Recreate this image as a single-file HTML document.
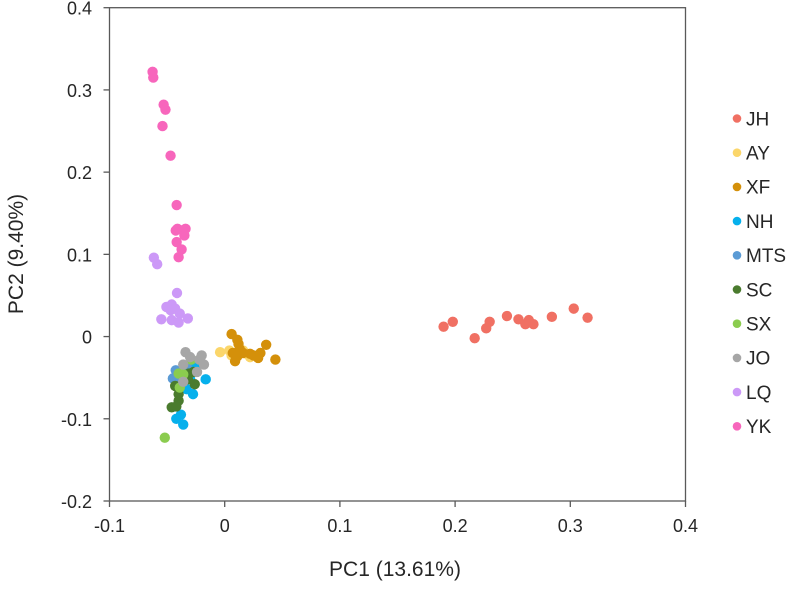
<!DOCTYPE html>
<html><head><meta charset="utf-8"><style>
body{margin:0;background:#fff;font-family:"Liberation Sans",Arial,sans-serif}
svg text{font-family:"Liberation Sans",Arial,sans-serif;fill:#262626}
</style></head><body>
<svg id="chart" width="787" height="586" xmlns="http://www.w3.org/2000/svg"></svg>
<script>
const xTicks=[-0.1,0,0.1,0.2,0.3,0.4];
const yTicks=[-0.2,-0.1,0,0.1,0.2,0.3,0.4];
const groups=["JH","AY","XF","NH","MTS","SC","SX","JO","LQ","YK"];
const colors=["#f07063","#fbd66a","#d4900a","#06b0ec","#5b9bd5","#4a7b2e","#8bcc4f","#a6a6a6","#cc99f7","#f766bc"];
const JH=[[0.190,0.012],[0.198,0.018],[0.217,-0.002],[0.227,0.010],[0.230,0.018],[0.245,0.025],[0.255,0.021],[0.261,0.015],[0.264,0.020],[0.268,0.015],[0.284,0.024],[0.303,0.034],[0.315,0.023]];
const AY=[[-0.004,-0.019],[0.004,-0.017],[0.006,-0.023],[0.019,-0.021],[0.022,-0.025],[0.016,-0.017]];
const XF=[[0.006,0.003],[0.011,-0.004],[0.012,-0.009],[0.013,-0.015],[0.007,-0.020],[0.011,-0.024],[0.009,-0.030],[0.025,-0.023],[0.029,-0.026],[0.031,-0.020],[0.036,-0.010],[0.044,-0.028],[0.016,-0.020],[0.022,-0.021]];
const NH=[[-0.0165,-0.052],[-0.025,-0.037],[-0.0275,-0.070],[-0.033,-0.064],[-0.038,-0.095],[-0.042,-0.100],[-0.036,-0.107],[-0.030,-0.052]];
const MTS=[[-0.0425,-0.041],[-0.045,-0.051],[-0.041,-0.049],[-0.033,-0.037]];
const SC=[[-0.031,-0.045],[-0.026,-0.058],[-0.043,-0.060],[-0.040,-0.070],[-0.040,-0.078],[-0.046,-0.086],[-0.042,-0.085],[-0.027,-0.043],[-0.032,-0.052]];
const SX=[[-0.029,-0.028],[-0.040,-0.045],[-0.036,-0.046],[-0.039,-0.062],[-0.052,-0.123]];
const JO=[[-0.034,-0.019],[-0.020,-0.023],[-0.022,-0.028],[-0.018,-0.034],[-0.036,-0.034],[-0.024,-0.043],[-0.036,-0.055],[-0.030,-0.025]];
const LQ=[[-0.0615,0.096],[-0.0586,0.088],[-0.0414,0.053],[-0.0506,0.036],[-0.046,0.039],[-0.043,0.034],[-0.039,0.028],[-0.055,0.021],[-0.046,0.020],[-0.040,0.017],[-0.032,0.022],[-0.047,0.032]];
const YK=[[-0.0626,0.322],[-0.062,0.315],[-0.053,0.282],[-0.0514,0.276],[-0.054,0.256],[-0.047,0.220],[-0.0417,0.160],[-0.0425,0.129],[-0.041,0.131],[-0.034,0.131],[-0.035,0.123],[-0.0417,0.115],[-0.0374,0.106],[-0.040,0.0965]];
const series=[JH,AY,XF,NH,MTS,SC,SX,JO,LQ,YK];
const svg=document.getElementById('chart');const NS="http://www.w3.org/2000/svg";
const L=109.5,R=685.5,T=7.7,B=501;
const sx=v=>L+(v-(-0.1))/(0.5)*(R-L);
const sy=v=>B-(v-(-0.2))/(0.6)*(B-T);
function mk(t,a,p){const e=document.createElementNS(NS,t);for(const k in a)e.setAttribute(k,a[k]);(p||svg).appendChild(e);return e;}
const frame=mk('rect',{x:L,y:T,width:R-L,height:B-T,fill:'none',stroke:'#595959','stroke-width':1.3});


xTicks.forEach(v=>{const x=sx(v);mk('line',{x1:x,x2:x,y1:B,y2:B+6,stroke:'#595959','stroke-width':1.3});
const t=mk('text',{x:x,y:532,'text-anchor':'middle','font-size':18});t.textContent=String(v);

});
yTicks.forEach(v=>{const y=sy(v);mk('line',{x1:L-6,x2:L,y1:y,y2:y,stroke:'#595959','stroke-width':1.3});
const t=mk('text',{x:92,y:y+7,'text-anchor':'end','font-size':18});t.textContent=String(v);

});
series.forEach((s,i)=>{s.forEach(p=>{const c=mk('circle',{cx:sx(p[0]),cy:sy(p[1]),r:5.2,fill:colors[i]});

});});
groups.forEach((g,i)=>{const y=118.5+i*34.2;
const gE=mk('g',{});


mk('circle',{cx:737,cy:y,r:4.3,fill:colors[i]},gE);
const t=mk('text',{x:746,y:y+6.8,'font-size':19},gE);t.textContent=g;});
const xt=mk('text',{x:395,y:576,'text-anchor':'middle','font-size':21});xt.textContent='PC1 (13.61%)';


const yt=mk('text',{x:0,y:0,'text-anchor':'middle','font-size':21,transform:'translate(23,254) rotate(-90)'});yt.textContent='PC2 (9.40%)';


</script>
</body></html>
